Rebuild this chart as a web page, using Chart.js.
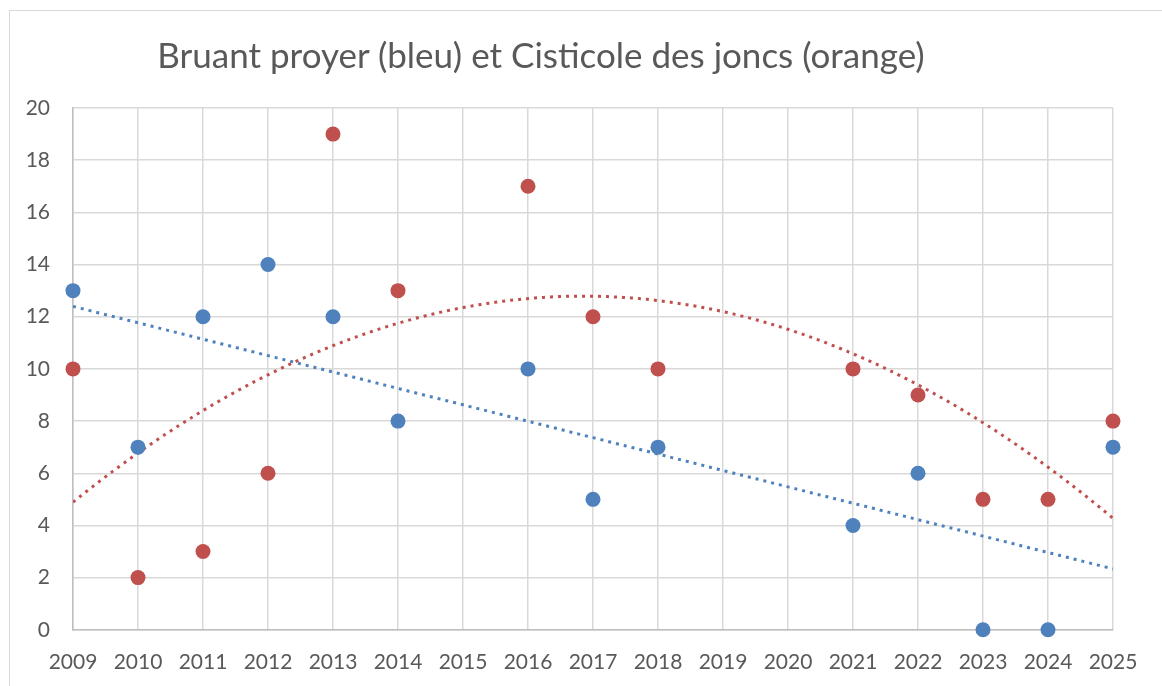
<!DOCTYPE html>
<html>
<head>
<meta charset="utf-8">
<script src="https://cdn.jsdelivr.net/npm/chart.js@4.4.1/dist/chart.umd.min.js"></script>
<style>
  html, body { margin: 0; padding: 0; background: #fff; overflow: hidden; }
  #wrap { position: relative; width: 1162px; height: 686px; overflow: hidden; }
  #frame { position: absolute; left: 9px; top: 10px; width: 1200px; height: 720px; border: 1px solid #d9d9d9; box-sizing: border-box; }
  #title { position: absolute; left: 541px; top: 37px; transform: translateX(-50%); white-space: nowrap;
           font-family: Lato, "Open Sans", sans-serif; font-size: 35px; line-height: 1; color: #595959; }
  canvas { position: absolute; left: 0; top: 0; }
</style>
</head>
<body>
<div id="wrap">
  <div id="frame"></div>
  <canvas id="myChart" width="1162" height="708"></canvas>
  <div id="title">Bruant proyer (bleu) et Cisticole des joncs (orange)</div>
</div>
<script>
// Years surveyed (2015, 2019, 2020 missing)
const years = [2009, 2010, 2011, 2012, 2013, 2014, 2016, 2017, 2018, 2021, 2022, 2023, 2024, 2025];
// Bruant proyer (blue)
const bruantProyer = [13, 7, 12, 14, 12, 8, 10, 5, 7, 4, 6, 0, 0, 7];
// Cisticole des joncs (orange / red)
const cisticoleJoncs = [10, 2, 3, 6, 19, 13, 17, 12, 10, 10, 9, 5, 5, 8];

// Tick labels
const xTicks = [2009, 2010, 2011, 2012, 2013, 2014, 2015, 2016, 2017, 2018, 2019, 2020, 2021, 2022, 2023, 2024, 2025];
const yTicks = [0, 2, 4, 6, 8, 10, 12, 14, 16, 18, 20];

const blue = '#4f81bd';
const red = '#c0504d';

// Build {x, y} points for the scatter datasets
function toPoints(values) {
  return years.map((yr, i) => ({ x: yr, y: values[i] }));
}

// Least squares polynomial fit (order 1 or 2), returns coefficients [c0, c1, c2]
function polyFit(xs, ys, order) {
  const n = order + 1;
  const m = [];
  for (let r = 0; r < n; r++) {
    m.push(new Array(n + 1).fill(0));
  }
  for (let k = 0; k < xs.length; k++) {
    const x = xs[k] - xs[0];
    for (let r = 0; r < n; r++) {
      for (let c = 0; c < n; c++) m[r][c] += Math.pow(x, r + c);
      m[r][n] += ys[k] * Math.pow(x, r);
    }
  }
  // gaussian elimination
  for (let i = 0; i < n; i++) {
    for (let j = i + 1; j < n; j++) {
      const f = m[j][i] / m[i][i];
      for (let c = i; c <= n; c++) m[j][c] -= f * m[i][c];
    }
  }
  const coef = new Array(n).fill(0);
  for (let i = n - 1; i >= 0; i--) {
    let s = m[i][n];
    for (let c = i + 1; c < n; c++) s -= m[i][c] * coef[c];
    coef[i] = s / m[i][i];
  }
  return coef;
}

const trends = [
  { coef: polyFit(years, bruantProyer, 1), color: blue },
  { coef: polyFit(years, cisticoleJoncs, 2), color: red }
];

// Plugin drawing the dotted trend lines through the chart scales
const trendPlugin = {
  id: 'trendlines',
  beforeDatasetsDraw(chart) {
    const { ctx, chartArea, scales } = chart;
    ctx.save();
    ctx.beginPath();
    ctx.rect(chartArea.left, chartArea.top, chartArea.right - chartArea.left, chartArea.bottom - chartArea.top);
    ctx.clip();
    ctx.lineWidth = 3;
    ctx.setLineDash([3, 5]);
    trends.forEach(t => {
      ctx.strokeStyle = t.color;
      ctx.beginPath();
      const start = scales.x.getPixelForValue(xTicks[0]);
      const end = scales.x.getPixelForValue(xTicks[xTicks.length - 1]);
      for (let px = start; px <= end + 0.5; px += 2) {
        const xv = scales.x.getValueForPixel(px) - years[0];
        let yv = 0;
        t.coef.forEach((c, i) => { yv += c * Math.pow(xv, i); });
        const py = scales.y.getPixelForValue(yv);
        if (px === start) ctx.moveTo(px, py);
        else ctx.lineTo(px, py);
      }
      ctx.stroke();
    });
    ctx.restore();
  }
};

const tickFont = { family: 'Lato, "Open Sans", sans-serif', size: 21 };

const ctx = document.getElementById('myChart').getContext('2d');
new Chart(ctx, {
  type: 'scatter',
  data: {
    datasets: [
      {
        label: 'Bruant proyer',
        data: toPoints(bruantProyer),
        backgroundColor: blue,
        borderWidth: 0,
        pointRadius: 7.5,
        clip: false
      },
      {
        label: 'Cisticole des joncs',
        data: toPoints(cisticoleJoncs),
        backgroundColor: red,
        borderWidth: 0,
        pointRadius: 7.5,
        clip: false
      }
    ]
  },
  options: {
    responsive: false,
    animation: false,
    layout: { padding: { left: 0, right: 49, top: 108, bottom: 13 } },
    plugins: {
      legend: { display: false },
      title: { display: false },
      tooltip: { enabled: false }
    },
    scales: {
      x: {
        type: 'linear',
        min: xTicks[0],
        max: xTicks[xTicks.length - 1],
        afterBuildTicks: scale => { scale.ticks = xTicks.map(v => ({ value: v })); },
        ticks: { color: '#595959', font: tickFont, padding: 20, maxRotation: 0, autoSkip: false,
                 callback: v => String(v) },
        grid: { color: '#d9d9d9', lineWidth: 1.5, drawTicks: false },
        border: { color: '#bfbfbf', width: 1.5 }
      },
      y: {
        min: yTicks[0],
        max: yTicks[yTicks.length - 1],
        afterBuildTicks: scale => { scale.ticks = yTicks.map(v => ({ value: v })); },
        afterFit: scale => { scale.width = 73; },
        ticks: { color: '#595959', font: tickFont, padding: 23, callback: v => String(v) },
        grid: { color: '#d9d9d9', lineWidth: 1.5, drawTicks: false },
        border: { color: '#bfbfbf', width: 1.5 }
      }
    }
  },
  plugins: [trendPlugin]
});
</script>
</body>
</html>
